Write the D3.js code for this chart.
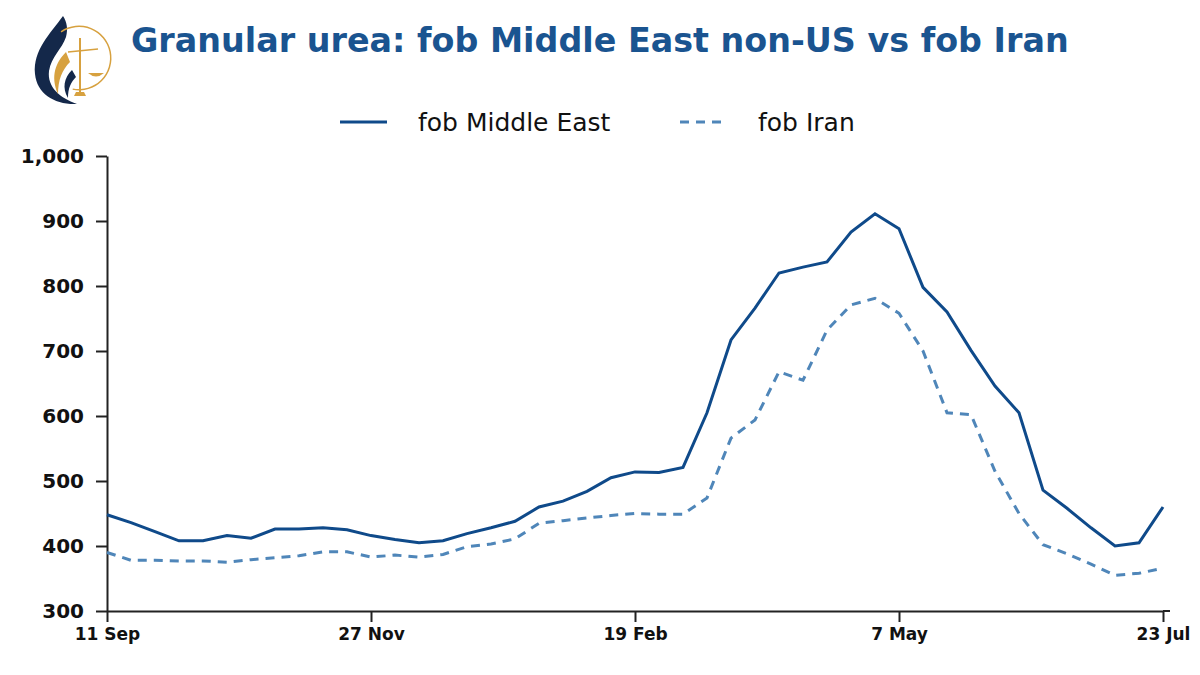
<!DOCTYPE html>
<html>
<head>
<meta charset="utf-8">
<script src="https://cdn.jsdelivr.net/npm/d3@7"></script>
<style>
  body { margin: 0; background: #fff; }
  svg { display: block; font-family: "DejaVu Sans", Verdana, sans-serif; }
</style>
</head>
<body>
<div id="chart"></div>
<script>
// weekly assessments, $/t
var tickLabels = ["11 Sep", "27 Nov", "19 Feb", "7 May", "23 Jul"];
var tickIndex = [0, 11, 22, 33, 44];
var yTicks = [300, 400, 500, 600, 700, 800, 900, 1000];

var middleEast = [448, 436, 422, 408, 408, 416, 412, 426, 426, 428, 425, 416, 410, 405, 408,
                  419, 428, 438, 460, 469, 484, 505, 514, 513, 521, 605, 717, 766, 820, 829,
                  837, 883, 911, 888, 798, 760, 701, 646, 605, 486, 458, 428, 400, 405, 460];
var iran = [390, 378, 378, 377, 377, 375, 379, 382, 385, 391, 391, 383, 386, 383, 387,
            399, 403, 411, 435, 439, 443, 447, 450, 449, 449, 474, 566, 594, 668, 655,
            732, 771, 781, 758, 700, 605, 602, 515, 450, 402, 388, 372, 355, 358, 366];

var W = 1200, H = 675;
var margin = {top: 156, right: 37, bottom: 64, left: 107};

var svg = d3.select("#chart").append("svg")
    .attr("width", W)
    .attr("height", H);

// logo
var logo = svg.append("g").attr("class", "logo");
logo.append("path")
    .attr("d", "M63,16 C50,34 33,50 35,74 C37,94 55,105 77,104 C60,98 47,87 49,71 C51,57 62,49 66,37 C68,29 67,22 63,16 Z")
    .attr("fill", "#14284a");
logo.append("path")
    .attr("d", "M66,52 C56,62 50,76 58,94 C58,80 62,70 70,62 Z")
    .attr("fill", "#d7a13f");
logo.append("path")
    .attr("d", "M72,70 C64,78 62,88 68,98 C68,88 71,82 76,77 Z")
    .attr("fill", "#14284a");
logo.append("path")
    .attr("d", d3.arc()({innerRadius: 31, outerRadius: 32.5, startAngle: -0.6, endAngle: Math.PI + 0.2}))
    .attr("transform", "translate(79,58)")
    .attr("fill", "#d7a13f");
logo.append("line").attr("x1", 80).attr("x2", 80).attr("y1", 38).attr("y2", 96)
    .attr("stroke", "#d7a13f").attr("stroke-width", 2);
logo.append("line").attr("x1", 68).attr("x2", 98).attr("y1", 52).attr("y2", 49)
    .attr("stroke", "#d7a13f").attr("stroke-width", 1.5);
logo.append("path").attr("d", "M88,73 Q96,80 104,73 Z").attr("fill", "#d7a13f");
logo.append("path").attr("d", "M74,96 L86,96 L84,92 L76,92 Z").attr("fill", "#d7a13f");

// title, fitted to the reference width
var title = svg.append("text")
    .attr("x", 131)
    .attr("y", 52)
    .attr("fill", "#1a5490")
    .attr("font-weight", "bold")
    .attr("font-size", 34)
    .text("Granular urea: fob Middle East non-US vs fob Iran");
var tw = title.node().getComputedTextLength();
title.attr("font-size", 34 * 938 / tw);

// scales
var x = d3.scaleLinear()
    .domain([0, middleEast.length - 1])
    .range([margin.left, W - margin.right]);
var y = d3.scaleLinear()
    .domain([300, 1000])
    .range([H - margin.bottom, margin.top]);

// axes
var yAxis = svg.append("g")
    .attr("transform", "translate(" + margin.left + ",0)")
    .call(d3.axisLeft(y).tickValues(yTicks).tickFormat(d3.format(",")).tickSize(11).tickSizeOuter(0).tickPadding(12));
var xAxis = svg.append("g")
    .attr("transform", "translate(0," + (H - margin.bottom) + ")")
    .call(d3.axisBottom(x).tickValues(tickIndex).tickFormat(function(d, i) { return tickLabels[i]; })
        .tickSize(11).tickSizeOuter(0).tickPadding(6));

svg.selectAll(".domain").attr("stroke", "#222").attr("stroke-width", 2);
svg.selectAll(".tick line").attr("stroke", "#222").attr("stroke-width", 2);
svg.selectAll(".tick text")
    .attr("fill", "#111")
    .attr("font-size", 20)
    .attr("font-weight", "bold")
    .attr("font-family", "DejaVu Sans, Verdana, sans-serif");
xAxis.selectAll(".tick text").attr("font-size", 17);
// x axis runs a little past the last point
xAxis.append("line")
    .attr("x1", W - margin.right).attr("x2", W - margin.right + 7)
    .attr("stroke", "#222").attr("stroke-width", 2);

// lines
var line = d3.line()
    .x(function(d, i) { return x(i); })
    .y(function(d) { return y(d); });

svg.append("path")
    .datum(iran)
    .attr("fill", "none")
    .attr("stroke", "#4f86b9")
    .attr("stroke-width", 3)
    .attr("stroke-dasharray", "9,7")
    .attr("d", line);

svg.append("path")
    .datum(middleEast)
    .attr("fill", "none")
    .attr("stroke", "#0f4a8a")
    .attr("stroke-width", 3)
    .attr("d", line);

// legend
var legend = [
  {name: "fob Middle East", color: "#0f4a8a", dash: null, x: 340},
  {name: "fob Iran", color: "#4f86b9", dash: "9,7", x: 680}
];
var lg = svg.append("g").selectAll("g")
    .data(legend)
    .enter().append("g")
    .attr("transform", function(d) { return "translate(" + d.x + ",122)"; });
lg.append("line")
    .attr("x1", 0).attr("x2", 47)
    .attr("stroke", function(d) { return d.color; })
    .attr("stroke-width", 3)
    .attr("stroke-dasharray", function(d) { return d.dash; });
lg.append("text")
    .attr("x", 78)
    .attr("dy", "0.35em")
    .attr("font-size", 25)
    .attr("fill", "#111")
    .text(function(d) { return d.name; });
</script>
</body>
</html>
